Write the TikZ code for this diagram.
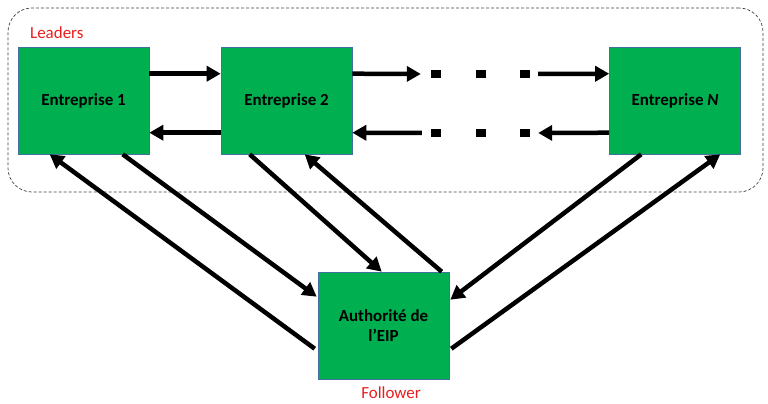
\documentclass[tikz,border=0pt]{standalone}
\usepackage{fontspec}
\setmainfont{Carlito}
\usetikzlibrary{arrows.meta}
\definecolor{boxgreen}{HTML}{00B050}
\definecolor{boxedge}{HTML}{41719C}
\definecolor{lblred}{HTML}{E81C1C}
\begin{document}
\begin{tikzpicture}[x=1bp,y=-1bp,
  firm/.style={draw=boxedge,line width=0.6bp,fill=boxgreen,minimum width=131bp,minimum height=107bp,inner sep=0pt,font=\fontsize{17}{20}\selectfont\bfseries,align=center},
  grp/.style={draw=black!75,line width=0.7bp,dash pattern=on 3bp off 2bp,rounded corners=24bp,minimum width=755bp,minimum height=184bp,inner sep=0pt},
  dot/.style={fill=black,minimum width=10bp,minimum height=8bp,inner sep=0pt},
  lbl/.style={text=lblred,font=\fontsize{17}{20}\selectfont,inner sep=0pt},
  arr/.style={line width=4.5bp,-{Triangle[length=14bp,width=15bp]}},
  ln/.style={line width=4.5bp}]
\useasboundingbox (0,0) rectangle (768,403);
\node[grp] (group) at (385.5,100) {};
\node[lbl,anchor=west] (leaders) at (30,33) {Leaders};
\node[firm] (e1) at (83.5,100.5) {Entreprise 1};
\node[firm] (e2) at (286.5,100.5) {Entreprise 2};
\node[firm] (en) at (675,100.5) {Entreprise \textit{N}};
\node[firm] (a) at (383.5,325.5) {Authorité de\\l’EIP};
\node[lbl] (follower) at (391,393) {Follower};
\node[dot] (t1) at (436,73.5) {};
\node[dot] (t2) at (481,73.5) {};
\node[dot] (t3) at (525,73.5) {};
\node[dot] (b1) at (436,133) {};
\node[dot] (b2) at (481,133) {};
\node[dot] (b3) at (525,133) {};
% horizontal
\draw[arr] ([yshift=-27bp]e1.north east) -- ([yshift=-27bp]e2.north west);
\draw[arr] ([yshift=-86bp]e2.north west) -- ([yshift=-86bp]e1.north east);
\draw[arr,shorten >=10bp] ([yshift=-27bp]e2.north east) -- (t1.west |- 0,74);
\draw[arr,shorten <=8bp] (t3.east |- 0,74) -- ([yshift=-27bp]en.north west);
\draw[arr,shorten >=8bp] ([yshift=-86bp]en.north west) -- (b3.east |- 0,133);
\draw[arr,shorten <=9bp] (b1.west |- 0,133) -- ([yshift=-86bp]e2.north east);
% diagonals
\draw[arr] ([yshift=-77bp,xshift=-3bp]a.north west) -- ([xshift=32bp]e1.south west);
\draw[arr] ([xshift=105bp]e1.south west) -- ([yshift=-25bp,xshift=-1bp]a.north west);
\draw[arr] ([xshift=29bp]e2.south west) -- ([xshift=64bp]a.north west);
\draw[arr] ([xshift=124bp]a.north west) -- ([xshift=84bp]e2.south west);
\draw[arr] ([xshift=32bp]en.south west) -- ([yshift=-28bp,xshift=1bp]a.north east);
\draw[arr] ([yshift=-77bp,xshift=2bp]a.north east) -- ([xshift=111bp]en.south west);
\end{tikzpicture}
\end{document}
